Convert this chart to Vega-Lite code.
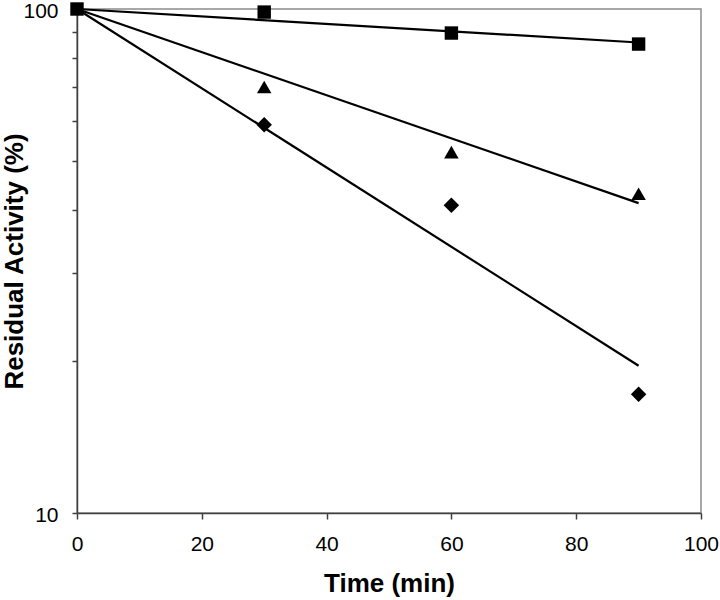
{
  "$schema": "https://vega.github.io/schema/vega-lite/v6.json",
  "width": 624,
  "height": 504,
  "autosize": {"type": "none"},
  "padding": {"left": 77, "top": 9, "right": 19, "bottom": 87},
  "background": "white",
  "config": {
    "view": {"stroke": "#8c8c8c", "strokeWidth": 1.5},
    "axis": {
      "labelFont": "Liberation Sans",
      "titleFont": "Liberation Sans",
      "labelColor": "black",
      "titleColor": "black",
      "domainColor": "#404040",
      "tickColor": "#404040",
      "domainWidth": 1.5,
      "tickWidth": 1.5,
      "labelFlush": false,
      "labelOverlap": false,
      "grid": false
    }
  },
  "datasets": {
    "points": [
      {"series": "A", "time": 0, "activity": 100},
      {"series": "A", "time": 30, "activity": 98.6},
      {"series": "A", "time": 60, "activity": 89.6},
      {"series": "A", "time": 90, "activity": 85.2},
      {"series": "B", "time": 30, "activity": 70.0},
      {"series": "B", "time": 60, "activity": 52.0},
      {"series": "B", "time": 90, "activity": 43.0},
      {"series": "C", "time": 30, "activity": 58.9},
      {"series": "C", "time": 60, "activity": 40.8},
      {"series": "C", "time": 90, "activity": 17.2}
    ],
    "fits": [
      {"series": "A", "time": 0, "fit": 100},
      {"series": "A", "time": 90, "fit": 85.8},
      {"series": "B", "time": 0, "fit": 100},
      {"series": "B", "time": 90, "fit": 41.2},
      {"series": "C", "time": 0, "fit": 100},
      {"series": "C", "time": 90, "fit": 19.6}
    ]
  },
  "layer": [
    {
      "data": {"name": "fits"},
      "mark": {"type": "line", "color": "black", "strokeWidth": 2.2},
      "encoding": {
        "x": {
          "field": "time", "type": "quantitative",
          "scale": {"domain": [0, 100], "nice": false, "zero": false},
          "axis": {
            "title": "Time (min)",
            "values": [0, 20, 40, 60, 80, 100],
            "labelFontSize": 21,
            "labelPadding": 14,
            "tickSize": 6,
            "titleFontSize": 26,
            "titleFontWeight": "bold",
            "titlePadding": 16
          }
        },
        "y": {
          "field": "fit", "type": "quantitative",
          "scale": {"type": "log", "domain": [10, 100], "nice": false},
          "axis": {
            "title": "Residual Activity (%)",
            "values": [10, 20, 30, 40, 50, 60, 70, 80, 90, 100],
            "labelExpr": "datum.value == 10 || datum.value == 100 ? datum.value : ''",
            "labelFontSize": 21,
            "labelPadding": 14,
            "labelOffset": 2,
            "tickSize": 5,
            "titleFontSize": 26,
            "titleFontWeight": "bold",
            "titlePadding": -5
          }
        },
        "detail": {"field": "series"}
      }
    },
    {
      "data": {"name": "points"},
      "mark": {"type": "point", "filled": true, "opacity": 1, "color": "black"},
      "encoding": {
        "x": {"field": "time", "type": "quantitative"},
        "y": {"field": "activity", "type": "quantitative"},
        "shape": {
          "field": "series", "type": "nominal",
          "scale": {"domain": ["A", "B", "C"], "range": ["square", "triangle-up", "diamond"]},
          "legend": null
        },
        "size": {
          "field": "series", "type": "nominal",
          "scale": {"domain": ["A", "B", "C"], "range": [180, 240, 210]},
          "legend": null
        }
      }
    }
  ]
}
